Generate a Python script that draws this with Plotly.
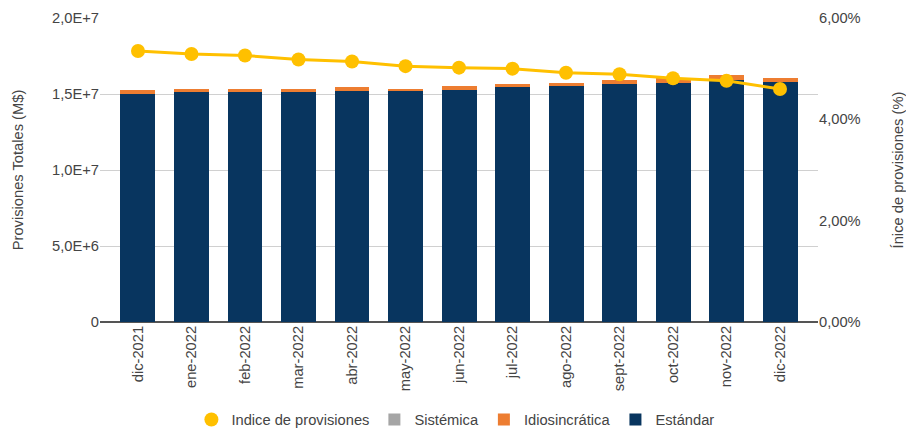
import plotly.graph_objects as go

categories = ["dic-2021", "ene-2022", "feb-2022", "mar-2022", "abr-2022", "may-2022",
              "jun-2022", "jul-2022", "ago-2022", "sept-2022", "oct-2022", "nov-2022", "dic-2022"]
estandar = [15.00e6, 15.11e6, 15.11e6, 15.11e6, 15.20e6, 15.18e6, 15.26e6,
            15.48e6, 15.50e6, 15.66e6, 15.74e6, 15.92e6, 15.80e6]
idiosincratica = [0.24e6, 0.22e6, 0.22e6, 0.22e6, 0.24e6, 0.15e6, 0.24e6,
                  0.18e6, 0.24e6, 0.26e6, 0.29e6, 0.33e6, 0.27e6]
sistemica = [0, 0, 0, 0, 0, 0, 0, 0, 0, 0, 0, 0, 0]
indice = [5.35, 5.29, 5.26, 5.18, 5.14, 5.05, 5.02, 5.00, 4.92, 4.89, 4.81, 4.76, 4.60]

left_tickvals = [0, 5e6, 1e7, 1.5e7, 2e7]
left_ticktext = ["0", "5,0E+6", "1,0E+7", "1,5E+7", "2,0E+7"]
right_tickvals = [0, 2, 4, 6]
right_ticktext = ["0,00%", "2,00%", "4,00%", "6,00%"]

FONT = "Liberation Sans, Arial, sans-serif"
BLUE = "#08355f"
ORANGE = "#ed7d31"
GRAY = "#a5a5a5"
GOLD = "#ffc000"
TXT = "#444"
FS = 14.7

fig = go.Figure()
fig.add_trace(go.Bar(x=categories, y=estandar, name="Estándar", marker_color=BLUE,
                     marker_line_width=0, legendrank=4))
fig.add_trace(go.Bar(x=categories, y=idiosincratica, name="Idiosincrática", marker_color=ORANGE,
                     marker_line_width=0, legendrank=3))
fig.add_trace(go.Bar(x=categories, y=sistemica, name="Sistémica", marker_color=GRAY,
                     marker_line_width=0, legendrank=2))
fig.add_trace(go.Scatter(x=categories, y=indice, name="Indice de provisiones", yaxis="y2",
                         mode="lines+markers", line=dict(color=GOLD, width=3),
                         marker=dict(color=GOLD, size=14), showlegend=False))
fig.add_trace(go.Scatter(x=[None], y=[None], name="Indice de provisiones", yaxis="y2",
                         mode="markers", marker=dict(color=GOLD, size=14), legendrank=1))

fig.update_layout(
    width=906, height=429, autosize=False,
    margin=dict(l=100, r=88, t=18, b=107, autoexpand=False),
    paper_bgcolor="white", plot_bgcolor="white",
    font=dict(family=FONT, size=FS, color=TXT),
    barmode="stack", bargap=0.346,
    showlegend=True,
    legend=dict(orientation="h", x=0.495, xanchor="center", y=-0.322, yanchor="middle",
                traceorder="normal", font=dict(size=FS, color=TXT), itemwidth=30),
    xaxis=dict(range=[-0.71, 12.71], tickangle=-90, showgrid=False, ticks="",
               tickfont=dict(size=FS, color=TXT), showline=False, automargin=False),
    yaxis=dict(range=[0, 2e7], tickvals=left_tickvals, ticktext=left_ticktext,
               gridcolor="#d0d0d0", gridwidth=1, zeroline=True, zerolinecolor="#555",
               zerolinewidth=1.5, showline=False, ticks="", automargin=False,
               title=dict(text="Provisiones Totales (M$)", font=dict(size=FS, color=TXT),
                          standoff=24),
               tickfont=dict(size=FS, color=TXT)),
    yaxis2=dict(range=[0, 6], overlaying="y", side="right", tickvals=right_tickvals,
                ticktext=right_ticktext, showgrid=False, zeroline=False, ticks="",
                automargin=False,
                title=dict(text="Ínice de provisiones (%)", font=dict(size=FS, color=TXT),
                           standoff=34),
                tickfont=dict(size=FS, color=TXT)),
)

fig.write_html("out.html",
               config={"displayModeBar": False},
               post_script="document.body.style.margin='0';document.body.style.overflow='hidden';")
